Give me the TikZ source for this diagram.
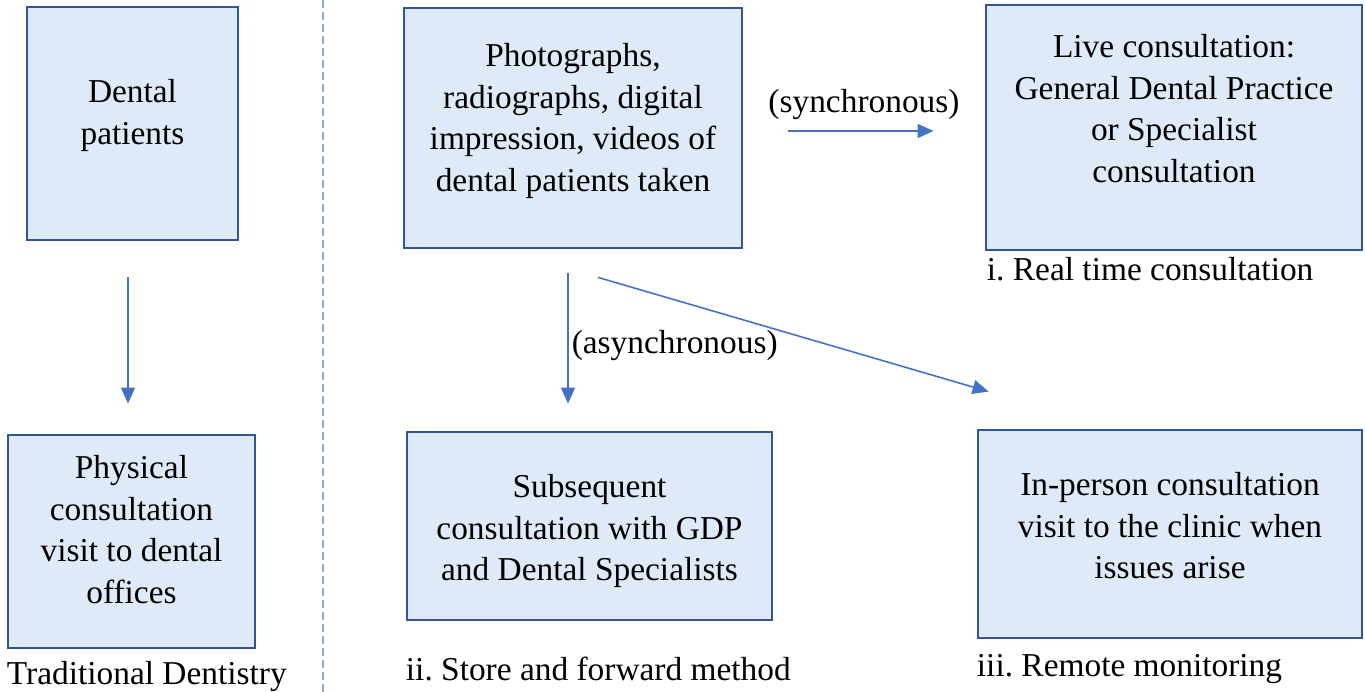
\documentclass[tikz,border=0pt]{standalone}
\usepackage{fontspec}
\setmainfont{Liberation Serif}
\usetikzlibrary{arrows.meta}
\usetikzlibrary{positioning}
\definecolor{boxfill}{RGB}{222,234,247}
\definecolor{boxline}{RGB}{52,85,148}
\definecolor{arrowblue}{RGB}{68,114,196}
\definecolor{dashblue}{RGB}{143,170,220}

\begin{document}
\begin{tikzpicture}[>={Triangle[length=0.32cm,width=0.28cm]},
		box/.style={draw=boxline, fill=boxfill, line width=1.6pt, inner sep=0pt},
		txt/.style={align=center, inner sep=0pt, text=black, font=\fontsize{19}{23.6}\selectfont},
		lbl/.style={inner sep=0pt, text=black, font=\fontsize{19}{23.6}\selectfont},
		link/.style={->, arrowblue, line width=0.9pt}]
	\useasboundingbox (0,0) rectangle (27.3,-13.84);
	
	% Traditional dentistry (left column)
	\node (pat) [box, minimum width=4.22cm, minimum height=4.66cm] at (2.65,-2.47) {};
	\node (patTxt) [txt] at ([yshift=0.16cm]pat.center) {Dental\\patients};
	\node (phys) [box, minimum width=4.94cm, minimum height=4.26cm] at (2.63,-10.83) {};
	\node (physTxt) [txt] at ([yshift=0.24cm]phys.center) {Physical\\consultation\\visit to dental\\offices};
	\node (trad) [lbl, below right=0.24cm and 0cm of phys.south west] {Traditional Dentistry};
	
	% Separator
	\coordinate (sepTop) at (6.46,0);
	\coordinate (sepBot) at (6.46,-13.84);
	\draw[dashblue, line width=1pt, dash pattern=on 0.16cm off 0.08cm] (sepTop) -- (sepBot);
	
	% Teledentistry boxes
	\node (photo) [box, minimum width=6.76cm, minimum height=4.8cm] at (11.46,-2.56) {};
	\node (photoTxt) [txt] at ([yshift=0.14cm]photo.center) {Photographs,\\radiographs, digital\\impression, videos of\\dental patients taken};
	\node (live) [box, minimum width=7.52cm, minimum height=4.9cm] at (23.48,-2.55) {};
	\node (liveTxt) [txt] at ([yshift=0.38cm]live.center) {Live consultation:\\General Dental Practice\\or Specialist\\consultation};
	\node (sub) [box, minimum width=7.3cm, minimum height=3.76cm] at (11.79,-10.52) {};
	\node (subTxt) [txt] at ([yshift=-0.1cm]sub.center) {Subsequent\\consultation with GDP\\and Dental Specialists};
	\node (mon) [box, minimum width=7.68cm, minimum height=4.16cm] at (23.4,-10.68) {};
	\node (monTxt) [txt] at ([yshift=0.16cm]mon.center) {In-person consultation\\visit to the clinic when\\issues arise};
	
	% Captions under the boxes
	\node (real) [lbl, below right=0.12cm and 0.04cm of live.south west] {i.\ Real time consultation};
	\node (store) [lbl, below right=0.7cm and 0cm of sub.south west] {ii.\ Store and forward method};
	\node (remote) [lbl, anchor=west] at (store.west -| mon.west) {iii.\ Remote monitoring};
	
	% Arrows
	\draw[link, shorten <=0.72cm, shorten >=0.6cm] ([xshift=-0.09cm]pat.south) -- ([xshift=-0.09cm]pat.south |- phys.north);
	\draw[link, shorten <=0.9cm, shorten >=1.02cm] ([yshift=-0.06cm]photo.east) -- ([yshift=-0.06cm]photo.east -| live.west)
		node[lbl, midway, above=0.2cm] {(synchronous)};
	\draw[link, shorten <=0.48cm, shorten >=0.54cm] ([xshift=-0.1cm]photo.south) -- ([xshift=-0.1cm]photo.south |- sub.north)
		node[lbl, midway, right=0.06cm, yshift=-0.12cm] {(asynchronous)};
	\draw[link] ([xshift=0.5cm,yshift=-0.56cm]photo.south) -- ([xshift=0.24cm,yshift=0.74cm]mon.north west);
\end{tikzpicture}
\end{document}
